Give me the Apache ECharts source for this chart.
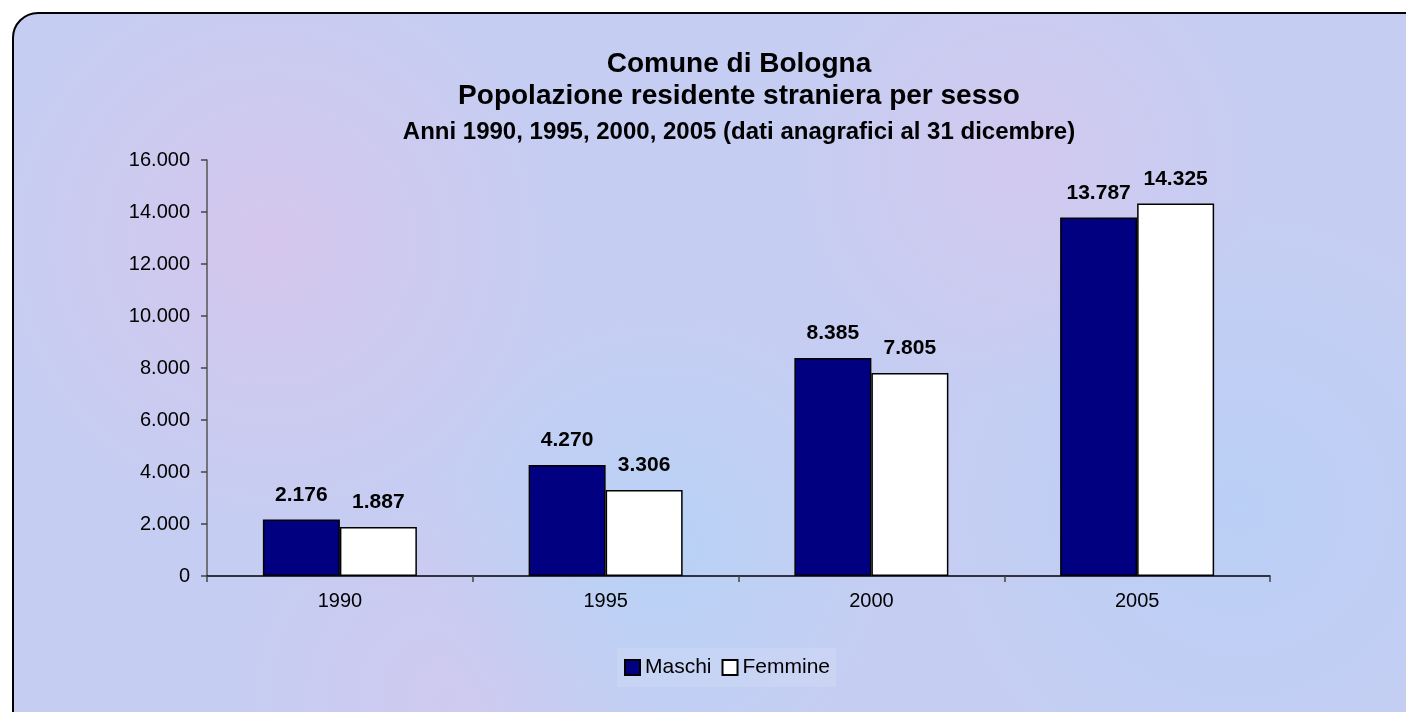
<!DOCTYPE html>
<html>
<head>
<meta charset="utf-8">
<script src="https://cdn.jsdelivr.net/npm/echarts@6/dist/echarts.min.js"></script>
<style>
  html, body { margin: 0; padding: 0; background: #fff; overflow: hidden; }
  #frame {
    position: absolute; left: 12px; top: 12px; width: 1440px; height: 760px;
    border: 2px solid #000; border-radius: 26px;
    background-color: #c6cdf2;
    background-image:
      radial-gradient(circle at 18% 30%, rgba(230,190,230,0.45), rgba(230,190,230,0) 22%),
      radial-gradient(circle at 45% 70%, rgba(170,215,250,0.5), rgba(170,215,250,0) 25%),
      radial-gradient(circle at 70% 20%, rgba(225,195,235,0.45), rgba(225,195,235,0) 20%),
      radial-gradient(circle at 85% 65%, rgba(175,210,250,0.5), rgba(175,210,250,0) 24%),
      radial-gradient(circle at 30% 90%, rgba(220,195,235,0.4), rgba(220,195,235,0) 18%);
  }
  #main { position: absolute; left: 0; top: 0; width: 1406px; height: 712px; }
</style>
</head>
<body>
<div id="frame"></div>
<div id="main"></div>
<script>
// dati anagrafici al 31 dicembre
var categories = ['1990', '1995', '2000', '2005'];
var maschi = [2176, 4270, 8385, 13787];
var femmine = [1887, 3306, 7805, 14325];

function fmt(v) {
  return String(v).replace(/\B(?=(\d{3})+(?!\d))/g, '.');
}

var chartDom = document.getElementById('main');
var myChart = echarts.init(chartDom);
var option;

var font = 'Liberation Sans, Arial, sans-serif';

option = {
  backgroundColor: 'transparent',
  animation: false,
  title: [
    {
      text: 'Comune di Bologna',
      left: 739, top: 50, padding: 0, textAlign: 'center',
      textStyle: { fontFamily: font, fontSize: 28, fontWeight: 'bold', color: '#000' }
    },
    {
      text: 'Popolazione residente straniera per sesso',
      left: 739, top: 82, padding: 0, textAlign: 'center',
      textStyle: { fontFamily: font, fontSize: 28, fontWeight: 'bold', color: '#000' }
    },
    {
      text: 'Anni 1990, 1995, 2000, 2005 (dati anagrafici al 31 dicembre)',
      left: 739, top: 120, padding: 0, textAlign: 'center',
      textStyle: { fontFamily: font, fontSize: 24, fontWeight: 'bold', color: '#000' }
    }
  ],
  legend: {
    data: ['Maschi', 'Femmine'],
    left: 617, top: 648,
    padding: [9, 6, 9, 7],
    itemGap: 10,
    itemWidth: 15, itemHeight: 15,
    icon: 'rect',
    backgroundColor: 'rgba(255,255,255,0.12)',
    textStyle: { fontFamily: font, fontSize: 21, color: '#000' }
  },
  grid: { left: 207, right: 136, top: 160, bottom: 136, containLabel: false },
  xAxis: {
    type: 'category',
    data: categories,
    axisLine: { lineStyle: { color: '#000', width: 1.5 } },
    axisTick: { show: true, length: 6, lineStyle: { color: '#444', width: 1.5 } },
    axisLabel: { fontFamily: font, fontSize: 20, color: '#000', margin: 15 }
  },
  yAxis: {
    type: 'value',
    min: 0, max: 16000, interval: 2000,
    axisLine: { show: true, lineStyle: { color: '#555', width: 1.5 } },
    axisTick: { show: true, length: 6, lineStyle: { color: '#444', width: 1.5 } },
    splitLine: { show: false },
    axisLabel: {
      fontFamily: font, fontSize: 20, color: '#000', margin: 17,
      formatter: function (v) { return fmt(v); }
    }
  },
  series: [
    {
      name: 'Maschi',
      type: 'bar',
      data: maschi,
      barWidth: 77,
      barGap: '0%',
      itemStyle: { color: '#000080', borderColor: '#000', borderWidth: 1.5 },
      label: {
        show: true, position: 'top', distance: 14,
        fontFamily: font, fontSize: 21, fontWeight: 'bold', color: '#000',
        formatter: function (p) { return fmt(p.value); }
      }
    },
    {
      name: 'Femmine',
      type: 'bar',
      data: femmine,
      barWidth: 77,
      barGap: '0%',
      itemStyle: { color: '#ffffff', borderColor: '#000', borderWidth: 1.5 },
      label: {
        show: true, position: 'top', distance: 14,
        fontFamily: font, fontSize: 21, fontWeight: 'bold', color: '#000',
        formatter: function (p) { return fmt(p.value); }
      }
    }
  ]
};

option && myChart.setOption(option);
</script>
</body>
</html>
